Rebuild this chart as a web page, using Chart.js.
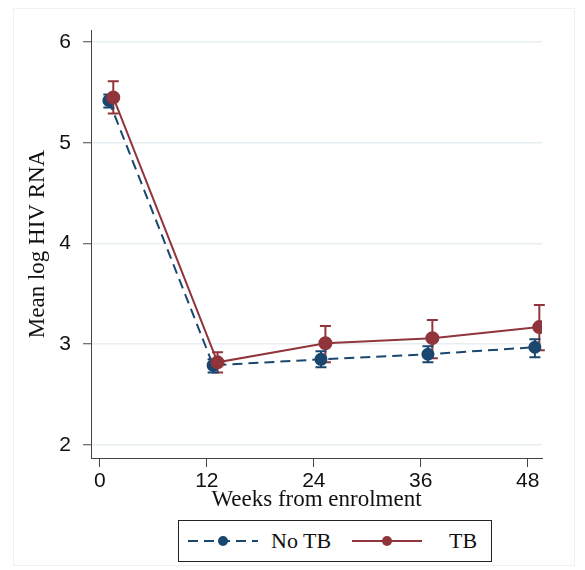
<!DOCTYPE html>
<html>
<head>
<meta charset="utf-8">
<script src="https://cdn.jsdelivr.net/npm/chart.js@4.4.0/dist/chart.umd.min.js"></script>
<style>
  html, body { margin: 0; padding: 0; background: #fff; }
  #wrap { position: relative; width: 585px; height: 570px; }
  #frame { position: absolute; left: 13px; top: 8px; width: 562px; height: 558px; border: 1px solid #f1f1f1; box-sizing: border-box; }
  canvas { position: absolute; left: 0; top: 0; }
  #legend {
    position: absolute; left: 178px; top: 520px; width: 314px; height: 42px;
    border: 1px solid #222; box-sizing: border-box;
    font-family: "Liberation Serif", serif; font-size: 22px; color: #111;
    display: flex; align-items: center;
  }
  #legend svg { display: block; }
</style>
</head>
<body>
<div id="wrap">
  <div id="frame"></div>
  <canvas id="chart" width="585" height="515"></canvas>
  <div id="legend">
    <svg width="74" height="20" style="margin-left:7px"><line x1="2" y1="10" x2="72" y2="10" stroke="#1a476f" stroke-width="2" stroke-dasharray="10,6"/><circle cx="37" cy="10" r="5" fill="#1a476f"/></svg>
    <span style="margin-left:11px">No TB</span>
    <svg width="74" height="20" style="margin-left:19px"><line x1="2" y1="10" x2="72" y2="10" stroke="#90353b" stroke-width="2"/><circle cx="37" cy="10" r="5" fill="#90353b"/></svg>
    <span style="margin-left:25px">TB</span>
  </div>
</div>
<script>
// Mean log HIV RNA by week, with 95% CI
const weeksNoTB = [1.0, 12.7, 24.8, 36.8, 48.8];
const weeksTB = [1.5, 13.2, 25.3, 37.3, 49.3];
const meanNoTB = [5.42, 2.79, 2.85, 2.90, 2.97];
const loNoTB = [5.35, 2.72, 2.77, 2.82, 2.87];
const hiNoTB = [5.48, 2.85, 2.93, 2.98, 3.05];
const meanTB = [5.45, 2.82, 3.01, 3.06, 3.17];
const loTB = [5.29, 2.72, 2.82, 2.86, 2.94];
const hiTB = [5.61, 2.92, 3.18, 3.24, 3.39];
const xTicks = [0, 12, 24, 36, 48];
const yTicks = [2, 3, 4, 5, 6];

const navy = '#1a476f';
const maroon = '#90353b';

// draws the CI caps from the lo/hi arrays
const errorBars = {
    id: 'errorBars',
    beforeDatasetsDraw(chart) {
        const ctx = chart.ctx;
        const xs = chart.scales.x, ys = chart.scales.y;
        chart.data.datasets.forEach(ds => {
            ctx.save();
            ctx.strokeStyle = ds.borderColor;
            ctx.lineWidth = 2;
            ds.data.forEach((p, i) => {
                const px = xs.getPixelForValue(p.x);
                const top = ys.getPixelForValue(ds.hi[i]);
                const bot = ys.getPixelForValue(ds.lo[i]);
                ctx.beginPath();
                ctx.moveTo(px, top); ctx.lineTo(px, bot);
                ctx.moveTo(px - 5.5, top); ctx.lineTo(px + 5.5, top);
                ctx.moveTo(px - 5.5, bot); ctx.lineTo(px + 5.5, bot);
                ctx.stroke();
            });
            ctx.restore();
        });
    }
};

const ctx = document.getElementById('chart').getContext('2d');
new Chart(ctx, {
    type: 'line',
    data: {
        datasets: [{
            label: 'TB',
            data: weeksTB.map((w, i) => ({ x: w, y: meanTB[i] })),
            lo: loTB,
            hi: hiTB,
            borderColor: maroon,
            backgroundColor: maroon,
            borderWidth: 2,
            pointRadius: 6,
            order: 0
        }, {
            label: 'No TB',
            data: weeksNoTB.map((w, i) => ({ x: w, y: meanNoTB[i] })),
            lo: loNoTB,
            hi: hiNoTB,
            borderColor: navy,
            backgroundColor: navy,
            borderWidth: 2,
            borderDash: [10, 6],
            pointRadius: 5.5,
            order: 1
        }]
    },
    options: {
        responsive: false,
        animation: false,
        layout: { padding: { left: 14, top: 30, right: 43, bottom: 0 } },
        plugins: { legend: { display: false }, tooltip: { enabled: false } },
        scales: {
            x: {
                type: 'linear',
                min: -1,
                max: 49.6,
                afterBuildTicks: s => { s.ticks = xTicks.map(v => ({ value: v })); },
                afterFit: s => { s.height = 57; },
                grid: { drawOnChartArea: false, tickLength: 9, tickColor: '#444', tickWidth: 1 },
                border: { color: '#444', width: 1 },
                ticks: { color: '#111', font: { family: 'Liberation Sans', size: 21 }, padding: 2, maxRotation: 0 },
                title: { display: true, text: 'Weeks from enrolment', color: '#111',
                         font: { family: 'Liberation Serif', size: 23 }, padding: { top: 0, bottom: 1 } }
            },
            y: {
                min: 1.87,
                max: 6.12,
                afterBuildTicks: s => { s.ticks = yTicks.map(v => ({ value: v })); },
                afterFit: s => { s.width = 77; },
                grid: { color: '#e6eef1', lineWidth: 1.5, tickLength: 8, tickColor: '#444', tickWidth: 1 },
                border: { color: '#444', width: 1 },
                ticks: { color: '#111', font: { family: 'Liberation Sans', size: 21 }, padding: 12 },
                title: { display: true, text: 'Mean log HIV RNA', color: '#111',
                         font: { family: 'Liberation Serif', size: 23 }, padding: { top: 10, bottom: 0 } }
            }
        }
    },
    plugins: [errorBars]
});
</script>
</body>
</html>
